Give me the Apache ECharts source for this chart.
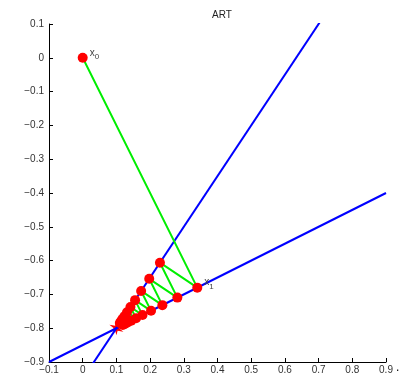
<!DOCTYPE html>
<html>
<head>
<meta charset="utf-8">
<script src="https://cdn.jsdelivr.net/npm/echarts@6/dist/echarts.min.js"></script>
<style>
  html, body { margin: 0; padding: 0; background: #fff; }
  #art { width: 405px; height: 377px; }
</style>
</head>
<body>
<div id="art"></div>
<script>
var chart = echarts.init(document.getElementById('art'));

// two constraint lines (end points, clipped by the axes)
var line1X = [-0.1, 0.9];
var line1Y = [-1.1, 0.4];
var line2X = [-0.1, 0.9];
var line2Y = [-0.9, -0.4];

// ART iterates x0 .. x20
var iterX = [0, 0.34, 0.2292, 0.2809, 0.1974, 0.2364, 0.1734, 0.2028, 0.1554, 0.1775,
             0.1417, 0.1584, 0.1315, 0.1440, 0.1237, 0.1332, 0.1179, 0.1250, 0.1135, 0.1189, 0.1102];
var iterY = [0, -0.68, -0.6062, -0.7095, -0.6539, -0.7318, -0.6898, -0.7486, -0.7170, -0.7612,
             -0.7374, -0.7708, -0.7528, -0.7780, -0.7644, -0.7834, -0.7732, -0.7875, -0.7798, -0.7906, -0.7848];

// solution (intersection)
var solX = [0.1];
var solY = [-0.8];

// tick labels
var tickX = [-0.1, 0, 0.1, 0.2, 0.3, 0.4, 0.5, 0.6, 0.7, 0.8, 0.9];
var tickY = [-0.9, -0.8, -0.7, -0.6, -0.5, -0.4, -0.3, -0.2, -0.1, 0, 0.1];

function zip(xs, ys) {
	var out = [];
	for (var i = 0; i < xs.length; i++) out.push([xs[i], ys[i]]);
	return out;
}

function fmt(v) {
	var r = Math.round(v * 10) / 10;
	return String(r).replace('-', '\u2212');
}

var iterPts = zip(iterX, iterY);
var labelled = iterPts.map(function (p, i) {
	if (i > 1) return p;
	return {
		value: p,
		label: {
			show: true,
			position: 'right',
			distance: 2,
			offset: [0, -5],
			formatter: '{a|x}{b|' + i + '}',
			rich: {
				a: { fontSize: 10, color: '#444', fontFamily: 'Liberation Sans' },
				b: { fontSize: 8, color: '#444', fontFamily: 'Liberation Sans', padding: [8, 0, 0, 0] }
			}
		}
	};
});

var starPath = 'path://M0,-10L1.5,-3.5L8.7,-5L3.2,0L8.7,5L1.5,3.5L0,10L-1.5,3.5L-8.7,5L-3.2,0L-8.7,-5L-1.5,-3.5Z';

var axisText = { color: '#333', fontSize: 10, fontFamily: 'Liberation Sans' };

var option = {
	animation: false,
	title: {
		text: 'ART',
		left: 217, top: 5,
		textAlign: 'center',
		textStyle: { fontSize: 10, fontWeight: 'normal', color: '#222', fontFamily: 'Liberation Sans' }
	},
	grid: { left: 49, right: 19, top: 24, bottom: 15 },
	xAxis: {
		type: 'value', min: -0.1, max: 0.9, interval: 0.1,
		axisLine: { onZero: false, lineStyle: { color: '#000', width: 1 } },
		axisTick: { inside: true, length: 4, lineStyle: { color: '#000' } },
		axisLabel: Object.assign({ margin: 3, formatter: fmt }, axisText),
		splitLine: { show: false }
	},
	yAxis: {
		type: 'value', min: -0.9, max: 0.1, interval: 0.1,
		axisLine: { show: true, onZero: false, lineStyle: { color: '#000', width: 1 } },
		axisTick: { show: true, inside: true, length: 4, lineStyle: { color: '#000' } },
		axisLabel: Object.assign({ margin: 5, formatter: fmt }, axisText),
		splitLine: { show: false }
	},
	graphic: [
		{ type: 'text', left: 396, top: 362, style: { text: '.', fontSize: 12, fill: '#000', fontFamily: 'Liberation Sans' } }
	],
	series: [
		{
			type: 'scatter', data: zip(solX, solY), symbol: starPath, symbolSize: 14,
			itemStyle: { color: '#ff0000', opacity: 1 }, z: 1
		},
		{
			type: 'line', data: zip(line1X, line1Y), showSymbol: false, clip: true,
			lineStyle: { color: '#0000ff', width: 2 }, z: 2
		},
		{
			type: 'line', data: zip(line2X, line2Y), showSymbol: false, clip: true,
			lineStyle: { color: '#0000ff', width: 2 }, z: 2
		},
		{
			type: 'line', data: iterPts, showSymbol: false,
			lineStyle: { color: '#00ee00', width: 2 }, z: 3
		},
		{
			type: 'scatter', data: labelled, symbol: 'circle', symbolSize: 10,
			itemStyle: { color: '#ff0000', opacity: 1 }, z: 4
		}
	]
};

chart.setOption(option);
</script>
</body>
</html>
